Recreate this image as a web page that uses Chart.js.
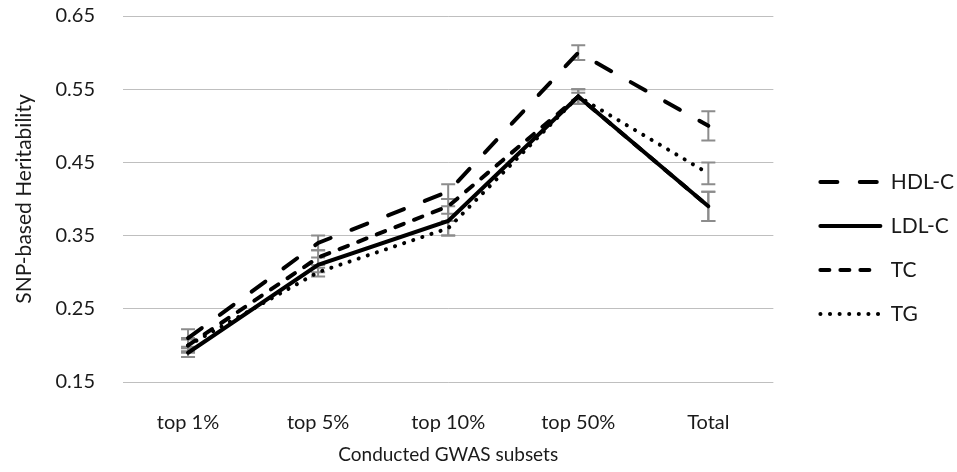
<!DOCTYPE html>
<html>
<head>
<meta charset="utf-8">
<script src="https://cdn.jsdelivr.net/npm/chart.js@4.4.0/dist/chart.umd.min.js"></script>
<style>
  html, body { margin: 0; padding: 0; background: #fff; }
  #wrap { width: 957px; height: 472px; }
</style>
</head>
<body>
<div id="wrap"><canvas id="chart" width="957" height="472"></canvas></div>
<script>
const categories = ['top 1%', 'top 5%', 'top 10%', 'top 50%', 'Total'];

const hdlValues = [0.21, 0.34, 0.41, 0.60, 0.50];
const ldlValues = [0.19, 0.31, 0.37, 0.54, 0.39];
const tcValues  = [0.20, 0.32, 0.39, 0.54, 0.39];
const tgValues  = [0.20, 0.30, 0.36, 0.54, 0.435];

// half-widths of the error bars
const hdlErrors = [0.012, 0.01, 0.01, 0.01, 0.02];
const ldlErrors = [0.006, 0.01, 0.02, 0.01, 0.02];
const tcErrors  = [0.01, 0.01, 0.01, 0.01, 0.02];
const tgErrors  = [0.008, 0.006, 0.01, 0.005, 0.015];

const yTicks = [0.15, 0.25, 0.35, 0.45, 0.55, 0.65];

const FONT = 'Lato, "Open Sans", sans-serif';
const TEXT = '#1a1a1a';

const errorBars = {
  id: 'errorBars',
  beforeDatasetsDraw(chart) {
    const ctx = chart.ctx;
    const y = chart.scales.y;
    ctx.save();
    ctx.strokeStyle = '#8c8c8c';
    ctx.lineWidth = 2;
    chart.data.datasets.forEach((ds, i) => {
      const meta = chart.getDatasetMeta(i);
      meta.data.forEach((pt, j) => {
        const v = ds.data[j];
        const e = ds.errors[j];
        const top = y.getPixelForValue(v + e);
        const bot = y.getPixelForValue(v - e);
        ctx.beginPath();
        ctx.moveTo(pt.x, top); ctx.lineTo(pt.x, bot);
        ctx.moveTo(pt.x - 7, top); ctx.lineTo(pt.x + 7, top);
        ctx.moveTo(pt.x - 7, bot); ctx.lineTo(pt.x + 7, bot);
        ctx.stroke();
      });
    });
    ctx.restore();
  }
};

// nudge the legend away from the plot, as Excel leaves a gap there
const legendGap = {
  id: 'legendGap',
  afterLayout(chart) {
    chart.legend.left += 24;
    chart.legend.right += 24;
    chart.legend.top += 4;
    chart.legend.bottom += 4;
  }
};

function series(label, data, errors, dash) {
  return {
    label: label,
    data: data,
    errors: errors,
    borderColor: '#000',
    backgroundColor: '#000',
    borderWidth: 4,
    borderDash: dash,
    borderCapStyle: 'round',
    pointRadius: 0,
    pointHoverRadius: 0,
    tension: 0,
    fill: false
  };
}

new Chart(document.getElementById('chart'), {
  type: 'line',
  data: {
    labels: categories,
    datasets: [
      series('HDL-C', hdlValues, hdlErrors, [17, 22.4]),
      series('LDL-C', ldlValues, ldlErrors, []),
      series('TC', tcValues, tcErrors, [9, 11]),
      series('TG', tgValues, tgErrors, [0.1, 9.5])
    ]
  },
  options: {
    responsive: false,
    animation: false,
    layout: { padding: { left: 8, top: 16, right: 17, bottom: 0 } },
    scales: {
      x: {
        offset: true,
        grid: { display: false, drawTicks: false },
        border: { display: false },
        ticks: { color: TEXT, font: { family: FONT, size: 20 }, padding: 29, maxRotation: 0 },
        title: {
          display: true,
          text: 'Conducted GWAS subsets',
          color: TEXT,
          font: { family: FONT, size: 19 },
          padding: { top: 4, bottom: 6 }
        },
        afterFit(scale) { scale.height = 90; }
      },
      y: {
        min: 0.15,
        max: 0.65,
        afterBuildTicks(scale) { scale.ticks = yTicks.map(v => ({ value: v })); },
        grid: { color: '#bfbfbf', lineWidth: 1, drawTicks: true, tickLength: 28, tickColor: 'rgba(0,0,0,0)' },
        border: { display: false },
        ticks: {
          color: TEXT,
          font: { family: FONT, size: 20 },
          padding: 0,
          callback: v => v.toFixed(2)
        },
        title: {
          display: true,
          text: 'SNP-based Heritability',
          color: TEXT,
          font: { family: FONT, size: 21 },
          padding: 4
        },
        afterFit(scale) { scale.width = 115; }
      }
    },
    plugins: {
      tooltip: { enabled: false },
      legend: {
        position: 'right',
        labels: {
          color: TEXT,
          font: { family: FONT, size: 21 },
          boxWidth: 60,
          boxHeight: 4,
          padding: 23,
          usePointStyle: true,
          pointStyle: 'line',
          pointStyleWidth: 60,
          generateLabels(chart) {
            return chart.data.datasets.map((ds, i) => ({
              text: ds.label,
              datasetIndex: i,
              strokeStyle: '#000',
              fillStyle: '#000',
              lineWidth: 4,
              lineDash: ds.borderDash,
              lineCap: 'round',
              pointStyle: 'line',
              fontColor: TEXT,
              hidden: false
            }));
          }
        }
      }
    }
  },
  plugins: [errorBars, legendGap]
});
</script>
</body>
</html>
